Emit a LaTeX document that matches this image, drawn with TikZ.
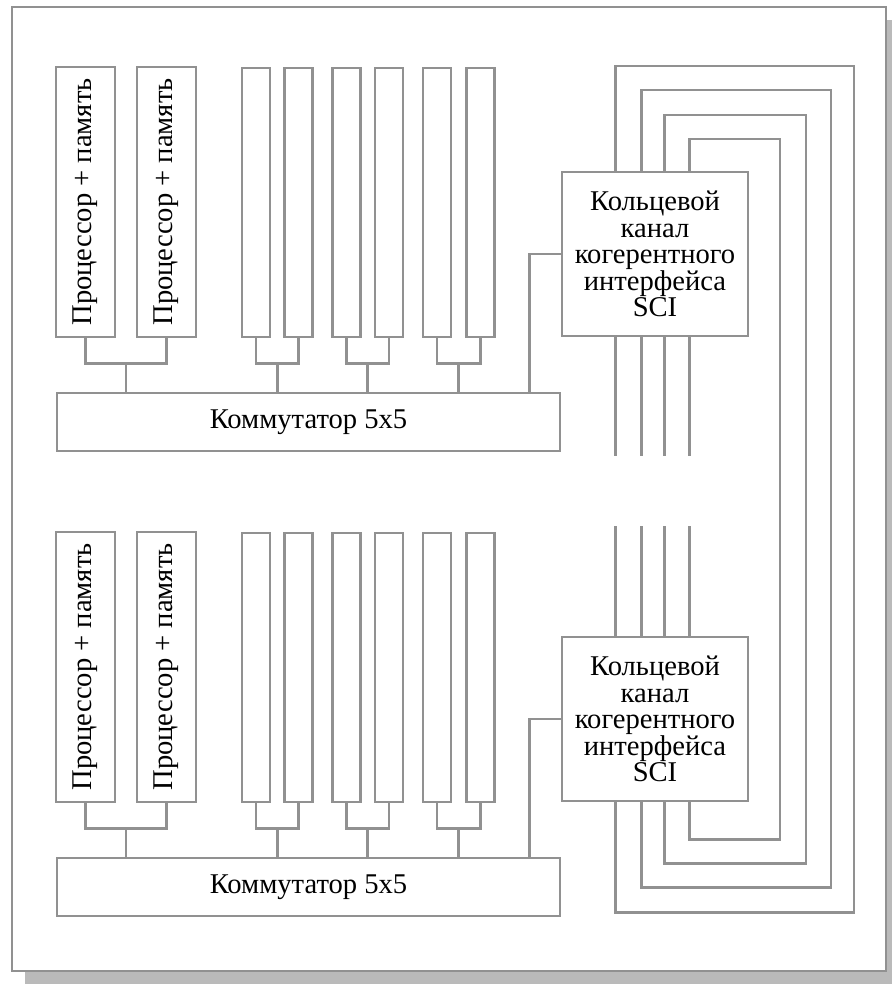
\documentclass[tikz,border=0pt]{standalone}
\usepackage{fontspec}
\setmainfont{Liberation Serif}
\usetikzlibrary{calc}
\definecolor{wiregray}{gray}{0.57}
\definecolor{shadowgray}{gray}{0.73}
\begin{document}
\begin{tikzpicture}[x=0.5pt, y=-0.5pt,
  wire/.style={draw=wiregray, line width=1.4pt},
  box/.style={wire, fill=white, inner sep=0pt},
  procbox/.style={box, minimum width=29.5pt, minimum height=135pt},
  slot/.style={box, minimum width=14pt, minimum height=134.5pt},
  font=\fontsize{14.3}{13.3}\selectfont]
  \useasboundingbox (0,0) rectangle (892,984);
  \fill[shadowgray] (25,20) rectangle (892,984);
  \draw[wire, fill=white] (12,7) rectangle (886,971);

  \foreach \h/\dy in {a/0, b/465} {
    \node[procbox] (p\h1) at (85.5,202+\dy) {\rotatebox{90}{Процессор + память}};
    \node[procbox] (p\h2) at (166.5,202+\dy) {\rotatebox{90}{Процессор + память}};
    \foreach \i/\x in {1/256, 2/298.5, 3/346.5, 4/389, 5/437, 6/480.5}
      \node[slot] (s\h\i) at (\x,202.5+\dy) {};
    \node[box, minimum width=251.5pt, minimum height=29pt] (sw\h) at (308.5,422+\dy) {Коммутатор 5x5};
    \node[box, minimum width=93pt, minimum height=82pt, align=center] (sci\h) at (655,254+\dy)
      {Кольцевой\\канал\\когерентного\\интерфейса\\SCI};
    \foreach \l/\r in {p\h1/p\h2, s\h1/s\h2, s\h3/s\h4, s\h5/s\h6} {
      \draw[wire] (\l.south) -- ++(0,25) -| (\r.south);
      \coordinate (m) at ($(\l.south)!.5!(\r.south)+(0,25)$);
      \draw[wire] (m) -- (m |- sw\h.north);
    }
    \draw[wire] ([xshift=-16pt]sw\h.north east) |- (sci\h.west);
  }

  \foreach \dx in {55, 81, 104, 129} {
    \draw[wire] ($(scia.south west)+(\dx,0)$) -- ++(0,119);
    \draw[wire] ($(scib.north west)+(\dx,0)$) -- ++(0,-110);
  }
  \foreach \dx/\rx/\ty/\by in {55/854/66/110, 81/831/90/85, 104/806/115/61, 129/780/139/37}
    \draw[wire] ($(scia.north west)+(\dx,0)$) |- (\rx,\ty) |- ($(scib.south west)+(\dx,\by)$)
      -- ($(scib.south west)+(\dx,0)$);
\end{tikzpicture}
\end{document}
